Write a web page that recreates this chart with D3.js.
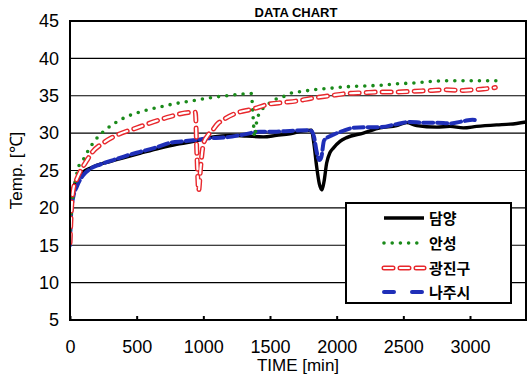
<!DOCTYPE html>
<html>
<head>
<meta charset="utf-8">
<script src="https://cdn.jsdelivr.net/npm/d3@7"></script>
<style>
  body { margin: 0; background: #fff; }
  svg { display: block; }
  .tick text { font-family: "Liberation Sans", Arial, sans-serif; font-size: 18px; fill: #000; }
</style>
</head>
<body>
<svg width="528" height="374"></svg>
<script>
// 담양 (black, solid)
const damyangT = [0, 5, 10, 20, 35, 50, 75, 100, 150, 200, 300, 400, 525, 675, 800, 900, 1000, 1075, 1200, 1325, 1450, 1550, 1650, 1750, 1810, 1830, 1850, 1870, 1890, 1905, 1925, 1950, 1975, 2025, 2075, 2200, 2325, 2450, 2525, 2600, 2750, 2850, 2950, 3050, 3200, 3300, 3420]
const damyangV = [18, 19.5, 21, 22.3, 23.2, 23.8, 24.2, 24.8, 25.3, 25.7, 26.2, 26.7, 27.3, 28.0, 28.5, 28.8, 29.2, 29.5, 29.7, 29.6, 29.5, 29.7, 29.9, 30.3, 30.4, 28.5, 25.5, 23.2, 22.4, 23.5, 26, 27.4, 28, 28.9, 29.4, 30.0, 30.7, 31.0, 31.4, 31.0, 30.8, 30.9, 30.7, 30.9, 31.1, 31.2, 31.5]

// 안성 (green, dotted)
const anseongT = [0, 10, 25, 40, 60, 85, 112, 140, 175, 210, 250, 300, 350, 425, 500, 580, 675, 775, 875, 975, 1075, 1175, 1275, 1360, 1372, 1385, 1400, 1425, 1470, 1525, 1590, 1650, 1750, 1825, 1950, 2075, 2200, 2325, 2450, 2575, 2700, 2825, 2950, 3075, 3210]
const anseongV = [17, 19.5, 22, 23.5, 25.3, 26.1, 26.8, 27.8, 28.7, 29.5, 30.2, 30.9, 31.5, 32.2, 32.7, 33.1, 33.5, 33.9, 34.2, 34.5, 34.8, 35.0, 35.2, 35.3, 32.5, 29.5, 31.5, 32.8, 33.6, 34.4, 34.8, 35.3, 35.6, 35.8, 36.0, 36.2, 36.3, 36.4, 36.6, 36.7, 36.9, 37.0, 37.0, 37.0, 37.0]

// 광진구 (red, hollow dashes)
const gwangjinT = [0, 10, 25, 50, 90, 125, 165, 250, 360, 500, 625, 750, 860, 940, 952, 965, 980, 1000, 1030, 1065, 1110, 1150, 1250, 1365, 1500, 1600, 1700, 1825, 1950, 2075, 2200, 2325, 2450, 2575, 2700, 2825, 2950, 3020, 3100, 3190]
const gwangjinV = [15.3, 19.5, 22.5, 23.8, 25.3, 26.3, 27.4, 28.7, 29.8, 30.7, 31.5, 32.2, 32.7, 32.8, 27, 22.3, 25.5, 28.5, 29.6, 30.3, 31.3, 31.8, 32.7, 33.2, 33.9, 34.1, 34.3, 34.7, 35.0, 35.3, 35.4, 35.5, 35.5, 35.6, 35.7, 35.8, 35.7, 35.8, 35.9, 36.1]

// 나주시 (blue, dashed)
const najuT = [0, 10, 25, 50, 100, 150, 225, 325, 425, 525, 650, 750, 850, 950, 1035, 1150, 1300, 1425, 1550, 1650, 1775, 1810, 1830, 1850, 1870, 1885, 1905, 1930, 1975, 2050, 2125, 2250, 2325, 2450, 2550, 2650, 2750, 2850, 2950, 3020, 3060]
const najuV = [15, 19.7, 21.5, 22.8, 24.4, 25.2, 25.8, 26.4, 27.0, 27.5, 28.1, 28.7, 28.9, 29.1, 29.3, 29.4, 29.8, 30.2, 30.2, 30.3, 30.4, 30.3, 29.5, 27.5, 26.4, 26.8, 29, 29.4, 29.8, 30.3, 30.7, 30.8, 30.8, 31.2, 31.5, 31.4, 31.4, 31.3, 31.6, 31.8, 31.6]

const yTicks = [5, 10, 15, 20, 25, 30, 35, 40, 45]
const xTicks = [0, 500, 1000, 1500, 2000, 2500, 3000]
const names = ["담양", "안성", "광진구", "나주시"]

const svg = d3.select('svg')
const margin = {left: 70, right: 2, top: 21, bottom: 54}
const W = 528, H = 374

const x = d3.scaleLinear()
    .domain([0, 3420])
    .range([margin.left, W - margin.right])

const y = d3.scaleLinear()
    .domain([5, 45])
    .range([H - margin.bottom, margin.top])

svg.append('clipPath').attr('id', 'plot')
    .append('rect')
    .attr('x', x(0)).attr('y', y(45))
    .attr('width', x(3420) - x(0)).attr('height', y(5) - y(45))

// gridlines
svg.append('g')
    .selectAll('line')
    .data(yTicks.filter(d => d > 5 && d < 45))
    .enter().append('line')
    .attr('x1', x(0)).attr('x2', x(3420))
    .attr('y1', d => y(d)).attr('y2', d => y(d))
    .attr('stroke', '#000').attr('stroke-width', 1.2)

// axes
const yAxis = svg.append('g')
    .attr('transform', `translate(${x(0) - 11},0)`)
    .call(d3.axisLeft(y).tickValues(yTicks).tickSize(0).tickPadding(0))
yAxis.select('.domain').remove()

const xAxis = svg.append('g')
    .attr('transform', `translate(0,${y(5)})`)
    .call(d3.axisBottom(x).tickValues(xTicks).tickFormat(d3.format('d'))
        .tickSizeInner(-4).tickSizeOuter(0).tickPadding(20))
xAxis.select('.domain').remove()
xAxis.selectAll('.tick line').attr('stroke', '#000').attr('stroke-width', 2)

const line = d3.line()
    .x(d => x(d[0]))
    .y(d => y(d[1]))
    .curve(d3.curveMonotoneX)

const zip = (ts, vs) => ts.map((t, i) => [t, vs[i]])

const lines = svg.append('g').attr('clip-path', 'url(#plot)')

lines.append('path')
    .attr('d', line(zip(damyangT, damyangV)))
    .attr('fill', 'none').attr('stroke', '#000').attr('stroke-width', 3.4)
    .attr('stroke-linejoin', 'round')

lines.append('path')
    .attr('d', line(zip(najuT, najuV)))
    .attr('fill', 'none').attr('stroke', '#1f2fb8').attr('stroke-width', 4)
    .attr('stroke-dasharray', '10,4').attr('stroke-linecap', 'round')

lines.append('path')
    .attr('d', line(zip(anseongT, anseongV)))
    .attr('fill', 'none').attr('stroke', '#1a8a1a').attr('stroke-width', 3.6)
    .attr('stroke-dasharray', '0,8.2').attr('stroke-linecap', 'round')

const redD = line(zip(gwangjinT, gwangjinV))
lines.append('path')
    .attr('d', redD)
    .attr('fill', 'none').attr('stroke', '#e8282d').attr('stroke-width', 5)
    .attr('stroke-dasharray', '9,7').attr('stroke-linecap', 'round')
lines.append('path')
    .attr('d', redD)
    .attr('fill', 'none').attr('stroke', '#fff').attr('stroke-width', 2.2)
    .attr('stroke-dasharray', '9,7').attr('stroke-linecap', 'round')

// frame
svg.append('rect')
    .attr('x', x(0)).attr('y', y(45))
    .attr('width', x(3420) - x(0)).attr('height', y(5) - y(45))
    .attr('fill', 'none').attr('stroke', '#000').attr('stroke-width', 2)

// titles
svg.append('text')
    .attr('x', 296).attr('y', 17)
    .attr('text-anchor', 'middle')
    .style('font-family', '"Liberation Sans", Arial, sans-serif')
    .style('font-size', '13px').style('font-weight', 'bold')
    .text('DATA CHART')

svg.append('text')
    .attr('x', 298).attr('y', 371)
    .attr('text-anchor', 'middle')
    .style('font-family', '"Liberation Sans", Arial, sans-serif')
    .style('font-size', '17px')
    .text('TIME [min]')

svg.append('text')
    .attr('transform', `translate(22,${(y(5) + y(45)) / 2}) rotate(-90)`)
    .attr('text-anchor', 'middle')
    .style('font-family', '"Liberation Sans", Arial, sans-serif')
    .style('font-size', '17px')
    .text('Temp. [℃]')

// legend
const lg = svg.append('g')
lg.append('rect')
    .attr('x', 346).attr('y', 203).attr('width', 165).attr('height', 100)
    .attr('fill', '#fff').attr('stroke', '#000').attr('stroke-width', 2)

const rowY = [218, 243, 268, 292]
const sample = (i) => lg.append('line')
    .attr('x1', 384).attr('x2', 424)
    .attr('y1', rowY[i]).attr('y2', rowY[i])
    .attr('fill', 'none')

sample(0).attr('stroke', '#000').attr('stroke-width', 3.4)
sample(1).attr('stroke', '#1a8a1a').attr('stroke-width', 3.6)
    .attr('stroke-dasharray', '0,8.2').attr('stroke-linecap', 'round')
sample(2).attr('stroke', '#e8282d').attr('stroke-width', 5)
    .attr('stroke-dasharray', '9,7').attr('stroke-linecap', 'round')
sample(2).attr('stroke', '#fff').attr('stroke-width', 2.2)
    .attr('stroke-dasharray', '9,7').attr('stroke-linecap', 'round')
sample(3).attr('stroke', '#1f2fb8').attr('stroke-width', 4)
    .attr('stroke-dasharray', '10,18').attr('stroke-linecap', 'round')

lg.selectAll('text.name')
    .data(names)
    .enter().append('text')
    .attr('class', 'name')
    .attr('x', 429)
    .attr('y', (d, i) => rowY[i] + 6)
    .style('font-family', '"Noto Sans CJK KR", sans-serif')
    .style('font-size', '15px').style('font-weight', 'bold')
    .text(d => d)
</script>
</body>
</html>
